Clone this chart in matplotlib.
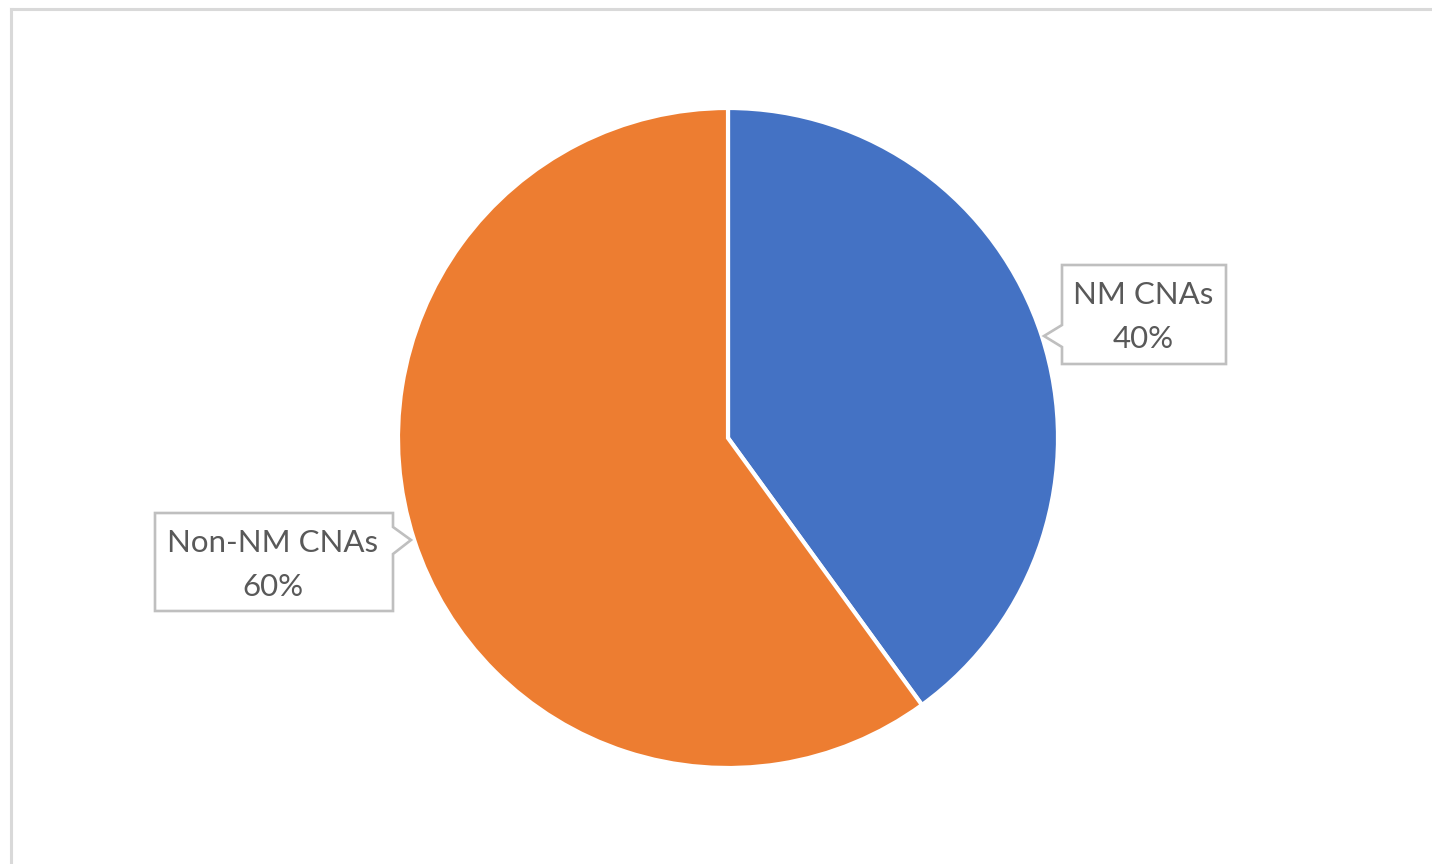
import matplotlib
matplotlib.use("Agg")
import matplotlib.pyplot as plt
from matplotlib.patches import Polygon
from matplotlib.lines import Line2D

categories = ["NM CNAs", "Non-NM CNAs"]
values = [40, 60]
colors = ["#4472C4", "#ED7D31"]

W, H = 1432, 864
fig = plt.figure(figsize=(W / 100, H / 100), dpi=100)
fig.patch.set_facecolor("white")
ax = fig.add_axes([0, 0, 1, 1])

cx, cy, r = 728, H - 438, 330
ax.pie(values, colors=colors, startangle=90, counterclock=False,
       center=(cx, cy), radius=r, frame=True,
       wedgeprops=dict(edgecolor="white", linewidth=3))
ax.set_xlim(0, W)
ax.set_ylim(0, H)
ax.set_aspect("equal")
ax.axis("off")

# chart-area border (top and left visible)
ax.add_line(Line2D([11, 11], [H - 8.5, -10], color="#d9d9d9", lw=2.2, clip_on=False))
ax.add_line(Line2D([11, W + 10], [H - 8.5, H - 8.5], color="#d9d9d9", lw=2.2, clip_on=False))

total = sum(values)
txt_color = "#595959"
font = ["Lato", "DejaVu Sans"]

def callout(box, tip, side, text_x, text_ys, name, pct):
    x0, y0, x1, y1 = box  # image coords (y down)
    ty = lambda y: H - y
    if side == "left":
        pts = [(x0, y0), (x1, y0), (x1, y1), (x0, y1),
               (x0, 347), tip, (x0, 325)]
    else:
        pts = [(x0, y0), (x1, y0), (x1, 527), tip, (x1, 554),
               (x1, y1), (x0, y1)]
    pts = [(px, ty(py)) for px, py in pts]
    ax.add_patch(Polygon(pts, closed=True, facecolor="white",
                         edgecolor="#bfbfbf", lw=1.9, zorder=5))
    for s, yy in zip([name, pct], text_ys):
        ax.text(text_x, ty(yy), s, ha="center", va="center", fontsize=22.5,
                color=txt_color, family=font, zorder=6)

pcts = [f"{round(v / total * 100)}%" for v in values]
callout((1062, 265, 1226, 364), (1044, 336), "left", 1143, (295, 339),
        categories[0], pcts[0])
callout((155, 513, 393, 611), (411, 540), "right", 273, (543, 587),
        categories[1], pcts[1])

fig.savefig("out.png", dpi=100, facecolor="white")
